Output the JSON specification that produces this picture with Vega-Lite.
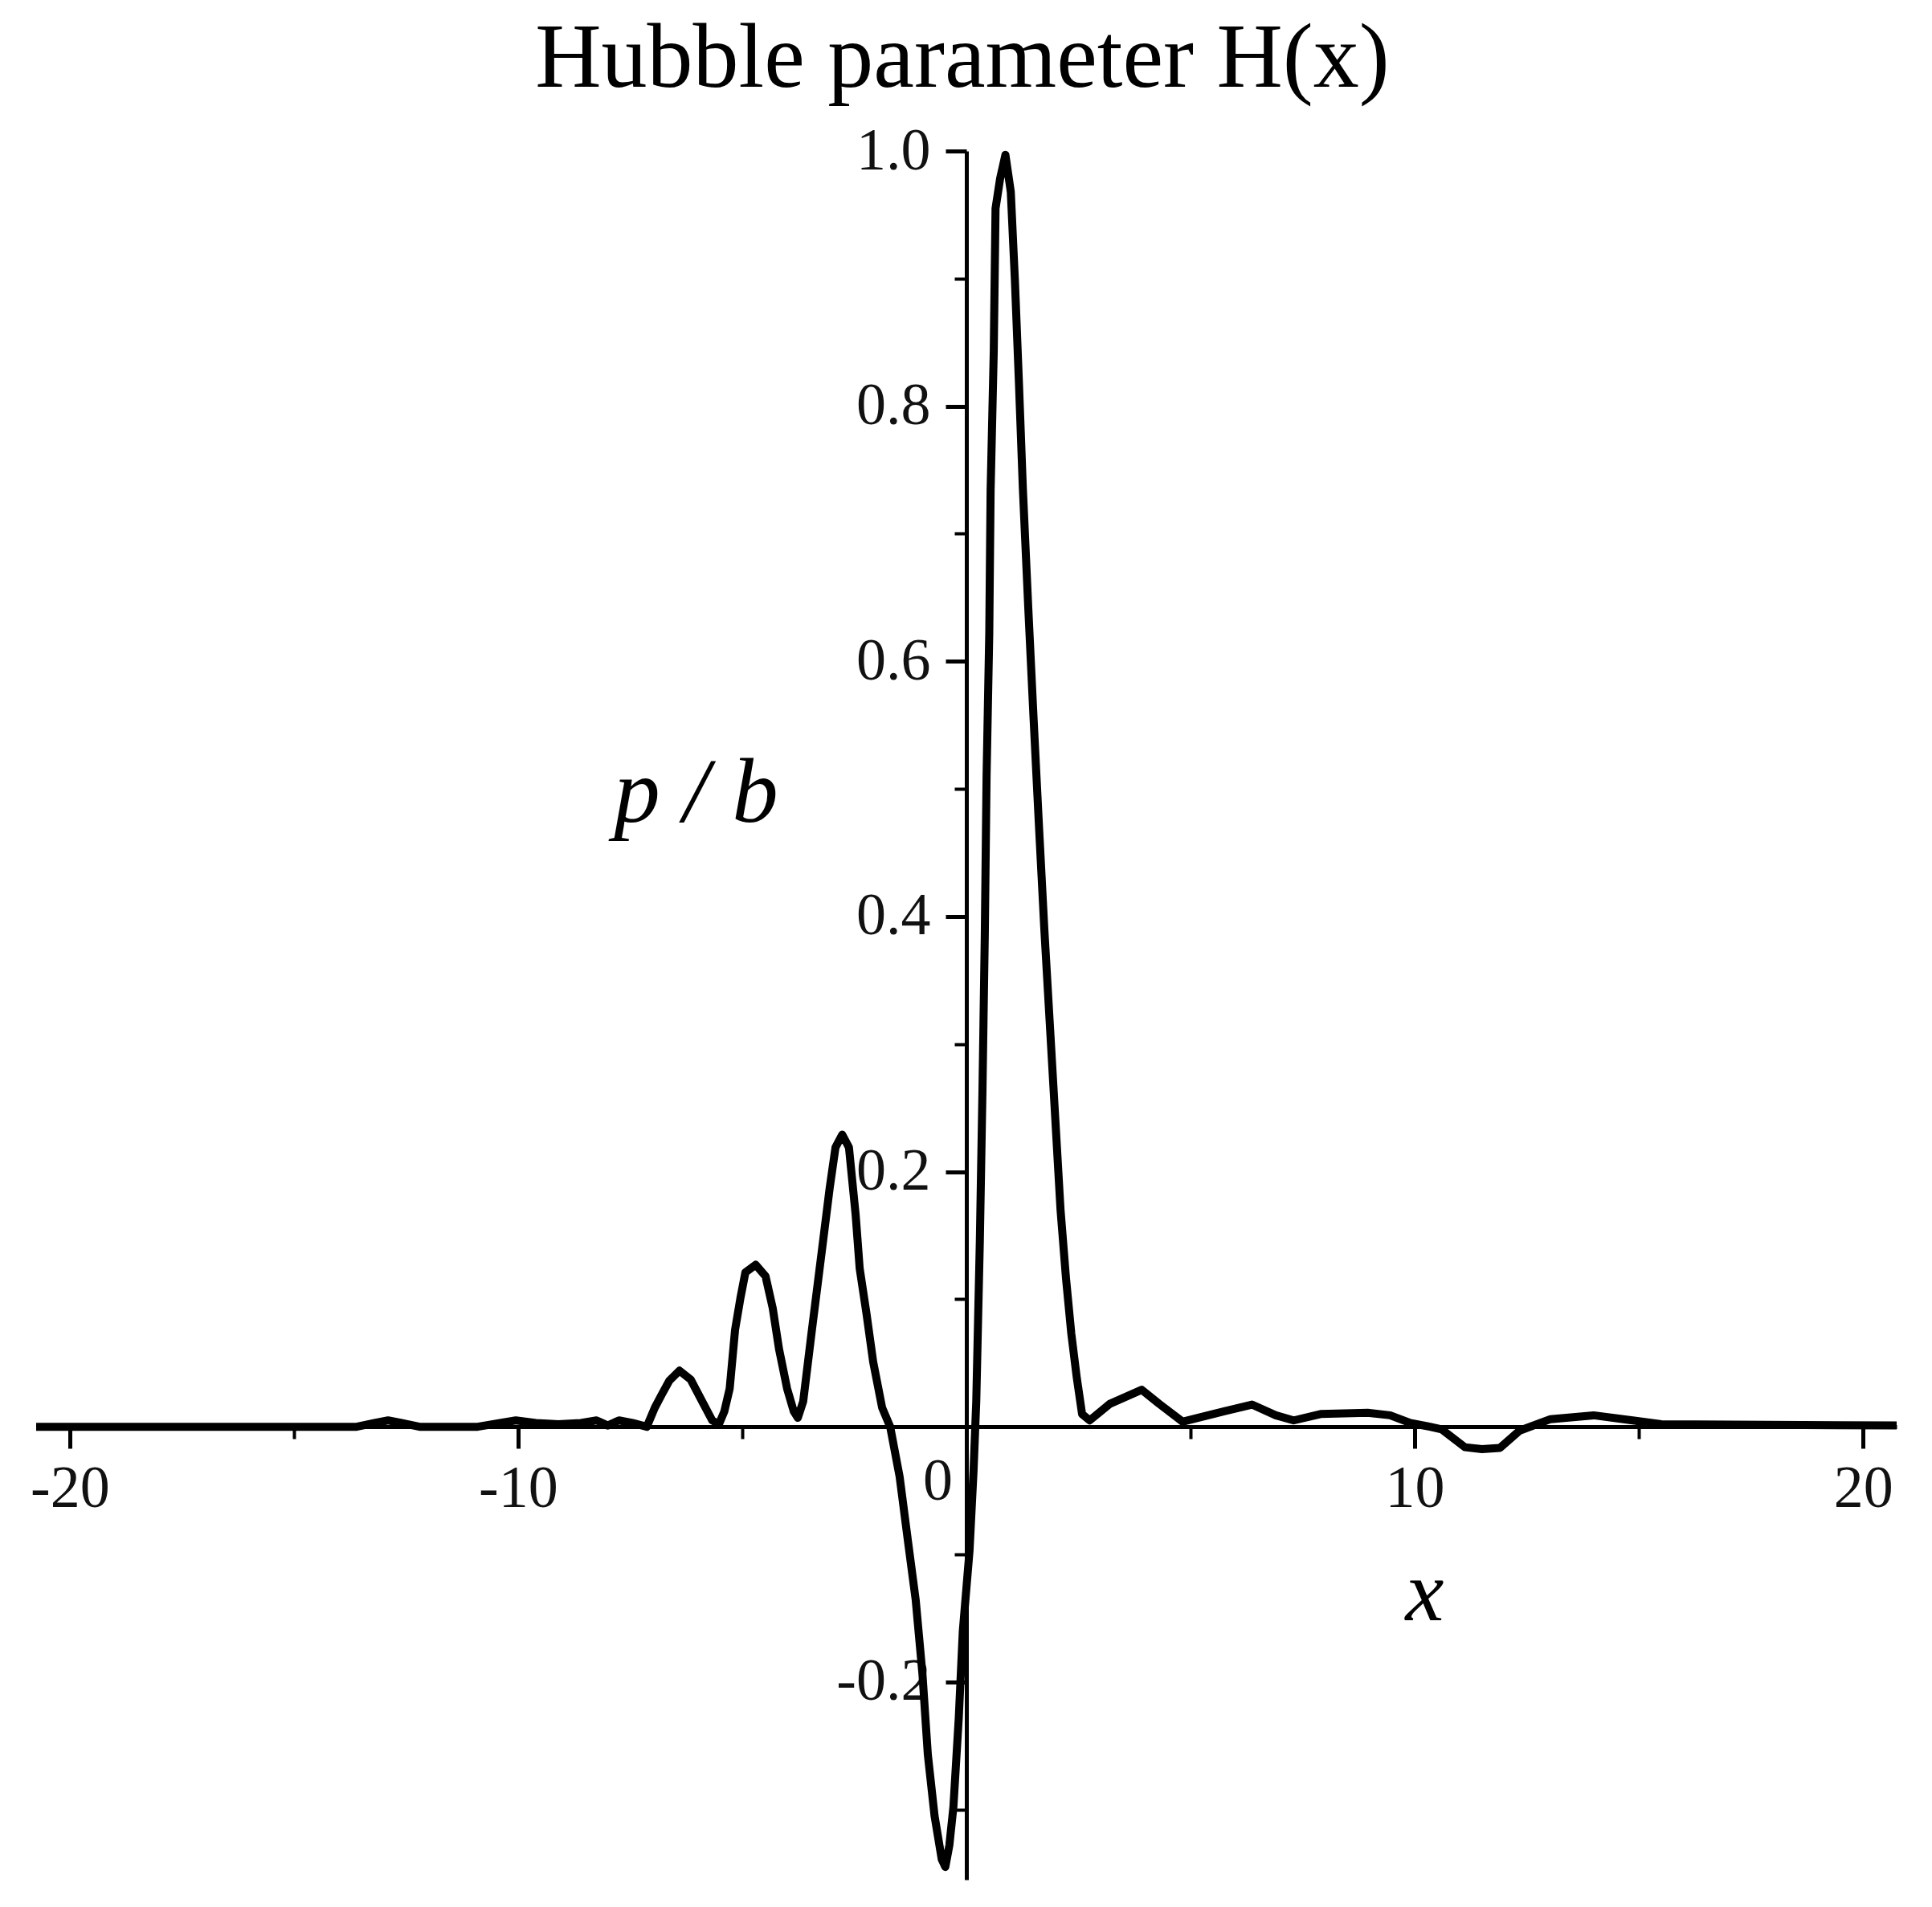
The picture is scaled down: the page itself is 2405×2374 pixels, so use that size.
{
  "$schema": "https://vega.github.io/schema/vega-lite/v6.json",
  "width": 2316,
  "height": 2152,
  "autosize": {"type": "none"},
  "padding": {"left": 45, "top": 188, "right": 44, "bottom": 34},
  "background": "white",
  "config": {"view": {"stroke": null}},
  "title": {
    "text": "Hubble parameter H(x)",
    "font": "Liberation Serif",
    "fontSize": 114,
    "fontWeight": "normal",
    "fontStyle": "normal",
    "color": "black",
    "baseline": "alphabetic",
    "anchor": "middle",
    "offset": 35,
    "dx": -5,
    "dy": 106
  },
  "data": {
    "values": [
      {"x": -20.75, "y": 0}, {"x": -16, "y": 0}, {"x": -13.6, "y": 0}, {"x": -13.2, "y": 0.003},
      {"x": -12.9, "y": 0.005}, {"x": -12.6, "y": 0.003}, {"x": -12.2, "y": 0}, {"x": -10.9, "y": 0},
      {"x": -10.4, "y": 0.003}, {"x": -10.05, "y": 0.005}, {"x": -9.6, "y": 0.003}, {"x": -9.1, "y": 0.002},
      {"x": -8.6, "y": 0.003}, {"x": -8.25, "y": 0.005}, {"x": -8.0, "y": 0.001}, {"x": -7.75, "y": 0.005},
      {"x": -7.45, "y": 0.003}, {"x": -7.13, "y": 0.0},
      {"x": -6.95, "y": 0.015}, {"x": -6.8, "y": 0.025}, {"x": -6.63, "y": 0.036}, {"x": -6.4, "y": 0.044},
      {"x": -6.15, "y": 0.037}, {"x": -5.91, "y": 0.021}, {"x": -5.67, "y": 0.005}, {"x": -5.52, "y": 0.002},
      {"x": -5.4, "y": 0.012}, {"x": -5.28, "y": 0.03}, {"x": -5.16, "y": 0.076}, {"x": -5.04, "y": 0.101},
      {"x": -4.93, "y": 0.121}, {"x": -4.7, "y": 0.127}, {"x": -4.48, "y": 0.118}, {"x": -4.32, "y": 0.093},
      {"x": -4.18, "y": 0.061}, {"x": -4.0, "y": 0.03}, {"x": -3.85, "y": 0.012}, {"x": -3.76, "y": 0.007},
      {"x": -3.64, "y": 0.02}, {"x": -3.46, "y": 0.072}, {"x": -3.31, "y": 0.114}, {"x": -3.16, "y": 0.156},
      {"x": -3.05, "y": 0.187}, {"x": -2.92, "y": 0.219}, {"x": -2.77, "y": 0.229}, {"x": -2.62, "y": 0.219},
      {"x": -2.47, "y": 0.166}, {"x": -2.38, "y": 0.124}, {"x": -2.23, "y": 0.089}, {"x": -2.08, "y": 0.051},
      {"x": -1.88, "y": 0.015}, {"x": -1.7, "y": 0.0},
      {"x": -1.49, "y": -0.039}, {"x": -1.31, "y": -0.088}, {"x": -1.13, "y": -0.136}, {"x": -0.98, "y": -0.194},
      {"x": -0.86, "y": -0.257}, {"x": -0.71, "y": -0.305}, {"x": -0.55, "y": -0.339}, {"x": -0.47, "y": -0.345},
      {"x": -0.38, "y": -0.328}, {"x": -0.29, "y": -0.298}, {"x": -0.17, "y": -0.228}, {"x": -0.08, "y": -0.16},
      {"x": 0.07, "y": -0.097}, {"x": 0.16, "y": -0.034}, {"x": 0.22, "y": 0.02}, {"x": 0.3, "y": 0.146},
      {"x": 0.36, "y": 0.267}, {"x": 0.41, "y": 0.385}, {"x": 0.45, "y": 0.51}, {"x": 0.51, "y": 0.622},
      {"x": 0.54, "y": 0.734}, {"x": 0.61, "y": 0.843}, {"x": 0.65, "y": 0.955}, {"x": 0.75, "y": 0.978},
      {"x": 0.87, "y": 0.997}, {"x": 0.99, "y": 0.968}, {"x": 1.08, "y": 0.9}, {"x": 1.17, "y": 0.82},
      {"x": 1.26, "y": 0.735}, {"x": 1.38, "y": 0.642}, {"x": 1.5, "y": 0.554}, {"x": 1.62, "y": 0.47},
      {"x": 1.74, "y": 0.389}, {"x": 1.86, "y": 0.316}, {"x": 1.98, "y": 0.243}, {"x": 2.1, "y": 0.17},
      {"x": 2.22, "y": 0.117}, {"x": 2.34, "y": 0.073}, {"x": 2.46, "y": 0.039}, {"x": 2.58, "y": 0.01},
      {"x": 2.75, "y": 0.005}, {"x": 3.2, "y": 0.018}, {"x": 3.91, "y": 0.029}, {"x": 4.3, "y": 0.018},
      {"x": 4.82, "y": 0.004}, {"x": 5.5, "y": 0.01}, {"x": 6.37, "y": 0.0174}, {"x": 6.9, "y": 0.009},
      {"x": 7.3, "y": 0.005}, {"x": 7.9, "y": 0.01}, {"x": 8.95, "y": 0.011}, {"x": 9.45, "y": 0.009},
      {"x": 9.9, "y": 0.003}, {"x": 10.34, "y": 0.0}, {"x": 10.6, "y": -0.002}, {"x": 11.12, "y": -0.016},
      {"x": 11.5, "y": -0.0175}, {"x": 11.9, "y": -0.0165}, {"x": 12.34, "y": -0.003}, {"x": 13.03, "y": 0.006},
      {"x": 13.99, "y": 0.009}, {"x": 14.86, "y": 0.005}, {"x": 15.5, "y": 0.002}, {"x": 20.75, "y": 0.001}
    ]
  },
  "mark": {"type": "line", "color": "black", "strokeWidth": 10, "strokeJoin": "round", "clip": false},
  "encoding": {
    "x": {
      "field": "x",
      "type": "quantitative",
      "scale": {"domain": [-20.75, 20.75], "nice": false, "zero": false},
      "axis": {
        "orient": "bottom",
        "offset": -564,
        "values": [-20, -15, -10, -5, 0, 5, 10, 15, 20],
        "grid": false,
        "domainColor": "black",
        "domainWidth": 5,
        "tickColor": "black",
        "tickWidth": {"condition": {"test": "abs(datum.value) % 10 == 0", "value": 5}, "value": 4},
        "tickSize": {"condition": {"test": "abs(datum.value) % 10 == 0", "value": 27}, "value": 15},
        "labelExpr": "abs(datum.value) % 10 == 0 ? (datum.value < 0 ? '-' + abs(datum.value) : '' + datum.value) : ''",
        "labelFont": "Liberation Serif",
        "labelFontSize": 74,
        "labelColor": "#111111",
        "labelPadding": {"condition": {"test": "datum.value == 0", "value": 5}, "value": 14},
        "labelOffset": {"condition": {"test": "datum.value == 0", "value": -36}, "value": 0},
        "labelFlush": false,
        "labelOverlap": false,
        "labelBound": false,
        "title": "x",
        "titleFont": "Liberation Serif",
        "titleFontStyle": "italic",
        "titleFontWeight": "normal",
        "titleFontSize": 108,
        "titleColor": "black",
        "titleX": 1728,
        "titleY": 240,
        "titleAlign": "center",
        "titleBaseline": "alphabetic",
        "titleAngle": 0
      }
    },
    "y": {
      "field": "y",
      "type": "quantitative",
      "scale": {"domain": [-0.355, 1.0], "nice": false, "zero": false},
      "axis": {
        "orient": "left",
        "offset": -1158,
        "values": [-0.3, -0.2, -0.1, 0.1, 0.2, 0.3, 0.4, 0.5, 0.6, 0.7, 0.8, 0.9, 1.0],
        "grid": false,
        "domainColor": "black",
        "domainWidth": 5,
        "tickColor": "black",
        "tickWidth": {"condition": {"test": "abs(round(datum.value*10)) % 2 == 0", "value": 5}, "value": 4},
        "tickSize": {"condition": {"test": "abs(round(datum.value*10)) % 2 == 0", "value": 26}, "value": 15},
        "labelExpr": "abs(round(datum.value*10)) % 2 == 0 ? (datum.value < 0 ? '-' + format(abs(datum.value), '.1f') : format(datum.value, '.1f')) : ''",
        "labelFont": "Liberation Serif",
        "labelFontSize": 74,
        "labelColor": "#111111",
        "labelPadding": 19,
        "labelFlush": false,
        "labelOverlap": false,
        "labelBound": false,
        "title": "p / b",
        "titleFont": "Liberation Serif",
        "titleFontStyle": "italic",
        "titleFontWeight": "normal",
        "titleFontSize": 115,
        "titleColor": "black",
        "titleAngle": 0,
        "titleX": -337,
        "titleY": 834,
        "titleAlign": "center",
        "titleBaseline": "alphabetic"
      }
    }
  }
}
